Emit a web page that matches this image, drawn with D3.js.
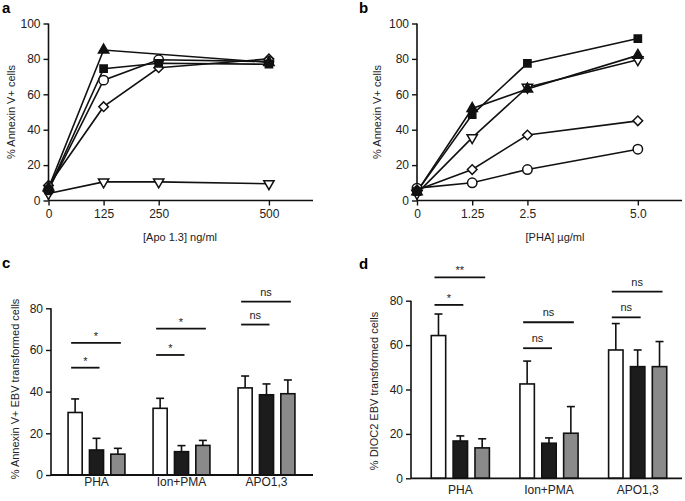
<!DOCTYPE html>
<html><head><meta charset="utf-8">
<script src="https://cdn.jsdelivr.net/npm/d3@7"></script>
<style>body{margin:0;background:#fff}svg{display:block}text{font-family:"Liberation Sans",Arial,Helvetica,sans-serif;fill:#222}</style>
</head><body><svg id="c" width="685" height="501"></svg>
<script>
// ---- Panel a data ----
const doseA = [0, 125, 250, 500];
const doseATicks = ["0", "125", "250", "500"];
const aTriUp = [7, 85, null, 78];
const aSquare = [6, 74.5, 77.5, 77];
const aCircle = [6, 68, 79.5, 78.5];
const aDiamond = [8.5, 53, 75, 80];
const aTriDown = [4, 10.5, 10.5, 9.5];
// ---- Panel b data ----
const doseB = [0, 1.25, 2.5, 5.0];
const doseBTicks = ["0", "1.25", "2.5", "5.0"];
const bSquare = [5, 48.5, 77.5, 91.5];
const bTriUp = [5, 52, 63, 82];
const bTriDown = [4, 35.5, 64, 79.5];
const bDiamond = [6, 17.5, 37, 45];
const bCircle = [7, 10, 17.5, 29];
const lineYTicks = [0, 20, 40, 60, 80, 100];
// ---- Bar panels ----
const groups = ["PHA", "Ion+PMA", "APO1,3"];
const barSeries = ["white", "black", "gray"];
const cWhite = [30, 32, 41.8], cWhiteErr = [6.5, 4.8, 5.7];
const cBlack = [12, 11.2, 38.5], cBlackErr = [5.6, 2.9, 5.2];
const cGray = [10, 14.2, 39], cGrayErr = [2.8, 2.4, 6.6];
const dWhite = [64.3, 42.5, 57.8], dWhiteErr = [9.7, 10.3, 11.9];
const dBlack = [16.8, 15.8, 50.3], dBlackErr = [2.3, 2.4, 7.5];
const dGray = [13.7, 20.3, 50.3], dGrayErr = [4.1, 12, 11.3];
const barYTicks = [0, 20, 40, 60, 80];
const sigC = [
  {g: 0, a: 0, b: 1, y: 51.5, t: "*"}, {g: 0, a: 0, b: 2, y: 63.4, t: "*"},
  {g: 1, a: 0, b: 1, y: 57.6, t: "*"}, {g: 1, a: 0, b: 2, y: 70.2, t: "*"},
  {g: 2, a: 0, b: 1, y: 72.2, t: "ns"}, {g: 2, a: 0, b: 2, y: 83.2, t: "ns"}];
const sigD = [
  {g: 0, a: 0, b: 1, y: 78.1, t: "*"}, {g: 0, a: 0, b: 2, y: 90.5, t: "**"},
  {g: 1, a: 0, b: 1, y: 58.6, t: "ns"}, {g: 1, a: 0, b: 2, y: 70.3, t: "ns"},
  {g: 2, a: 0, b: 1, y: 72.5, t: "ns"}, {g: 2, a: 0, b: 2, y: 84.1, t: "ns"}];

const svg = d3.select("#c");
const INK = "#111";

function panelLetter(t, x, y) {
  svg.append("text").attr("x", x).attr("y", y).attr("font-size", 15).attr("font-weight", "bold").style("fill", "#000").text(t);
}
function symPath(kind) {
  const s = {circle: [d3.symbolCircle, 70], square: [d3.symbolSquare, 52], tri: [d3.symbolTriangle, 46],
    tridown: [d3.symbolTriangle, 46], diamond: [d3.symbolSquare, 46]}[kind];
  return d3.symbol().type(s[0]).size(s[1])();
}
function symRot(kind) { return kind === "tridown" ? 180 : kind === "diamond" ? 45 : 0; }

function linePanel(opt) {
  const x = d3.scaleLinear().domain(opt.xDomain).range(opt.xRange);
  const y = d3.scaleLinear().domain([0, 100]).range(opt.yRange);
  const g = svg.append("g");
  const ya = g.append("g").attr("transform", `translate(${opt.xRange[0]},0)`)
    .call(d3.axisLeft(y).tickValues(lineYTicks).tickSize(5).tickPadding(3));
  const xa = g.append("g").attr("transform", `translate(0,${opt.yRange[0]})`)
    .call(d3.axisBottom(x).tickValues(opt.xVals).tickFormat((d, i) => opt.xTicks[i]).tickSize(5).tickPadding(4));
  [ya, xa].forEach(a => {
    a.select(".domain").attr("stroke", INK).attr("stroke-width", 1.6);
    a.selectAll(".tick line").attr("stroke", INK).attr("stroke-width", 1.4);
    a.selectAll("text").attr("font-size", 12).style("font-family", "Liberation Sans, Arial, sans-serif").attr("fill", "#222");
  });
  ya.select(".domain").attr("d", `M0,${opt.yRange[1]}V${opt.yRange[0]}`);
  xa.select(".domain").attr("d", `M${opt.xRange[0]},0H${opt.xRange[1]}`);
  const line = d3.line().x(d => x(d[0])).y(d => y(d[1]));
  opt.series.forEach(s => {
    const pts = opt.xVals.map((v, i) => [v, s.v[i]]).filter(p => p[1] != null);
    g.append("path").attr("d", line(pts)).attr("fill", "none").attr("stroke", INK).attr("stroke-width", 1.6);
  });
  opt.series.forEach(s => {
    const pts = opt.xVals.map((v, i) => [v, s.v[i]]).filter(p => p[1] != null);
    g.selectAll(null).data(pts).enter().append("path")
      .attr("d", symPath(s.k))
      .attr("transform", d => `translate(${x(d[0])},${y(d[1])}) rotate(${symRot(s.k)})`)
      .attr("fill", s.f ? INK : "#fff").attr("stroke", INK).attr("stroke-width", 1.5);
  });
  g.append("text").attr("x", (opt.titleX)).attr("y", opt.yRange[0] + 40).attr("text-anchor", "middle")
    .attr("font-size", 11).text(opt.xTitle);
  g.append("text").attr("transform", `translate(${opt.yTitleX},${(opt.yRange[0] + opt.yRange[1]) / 2}) rotate(-90)`)
    .attr("text-anchor", "middle").attr("font-size", 11).text("% Annexin V+ cells");
}

linePanel({xDomain: [0, 600], xRange: [48.5, 313], yRange: [200.5, 23.5], xVals: doseA, xTicks: doseATicks,
  series: [{k: "tridown", f: false, v: aTriDown}, {k: "diamond", f: false, v: aDiamond}, {k: "circle", f: false, v: aCircle},
    {k: "square", f: true, v: aSquare}, {k: "tri", f: true, v: aTriUp}],
  xTitle: "[Apo 1.3] ng/ml", titleX: 180, yTitleX: 15});
linePanel({xDomain: [0, 6], xRange: [417, 682], yRange: [200.5, 23.5], xVals: doseB, xTicks: doseBTicks,
  series: [{k: "circle", f: false, v: bCircle}, {k: "diamond", f: false, v: bDiamond}, {k: "tridown", f: false, v: bTriDown},
    {k: "tri", f: true, v: bTriUp}, {k: "square", f: true, v: bSquare}],
  xTitle: "[PHA] \u00b5g/ml", titleX: 555, yTitleX: 381});

function barPanel(opt) {
  const y = d3.scaleLinear().domain([0, 80]).range(opt.yRange);
  const x0 = d3.scaleBand().domain(groups).range(opt.bandRange);
  const x1 = d3.scaleBand().domain(barSeries).range([-opt.half, opt.half]).padding(0.34);
  const ctr = (gi, si) => x0(groups[gi]) + x0.bandwidth() / 2 + x1(barSeries[si]) + x1.bandwidth() / 2;
  const g = svg.append("g");
  const fills = {white: "#fff", black: "#1c1c1c", gray: "#8a8a8a"};
  opt.data.forEach((s, si) => {
    groups.forEach((grp, gi) => {
      const cx = ctr(gi, si), top = y(s.m[gi]), et = y(s.m[gi] + s.e[gi]);
      g.append("line").attr("x1", cx).attr("x2", cx).attr("y1", top).attr("y2", et).attr("stroke", INK).attr("stroke-width", 1.6);
      g.append("line").attr("x1", cx - 4).attr("x2", cx + 4).attr("y1", et).attr("y2", et).attr("stroke", INK).attr("stroke-width", 1.6);
      g.append("rect").attr("x", cx - x1.bandwidth() / 2).attr("width", x1.bandwidth())
        .attr("y", top).attr("height", y(0) - top).attr("fill", fills[barSeries[si]]).attr("stroke", INK).attr("stroke-width", 1.6);
    });
  });
  const ya = g.append("g").attr("transform", `translate(${opt.axisX},0)`)
    .call(d3.axisLeft(y).tickValues(barYTicks).tickSize(5).tickPadding(3));
  ya.select(".domain").attr("stroke", INK).attr("stroke-width", 1.6).attr("d", `M0,${opt.yRange[1]}V${opt.yRange[0]}`);
  ya.selectAll(".tick line").attr("stroke", INK).attr("stroke-width", 1.4);
  ya.selectAll("text").attr("font-size", 12).style("font-family", "Liberation Sans, Arial, sans-serif").attr("fill", "#222");
  g.append("line").attr("x1", opt.axisX).attr("x2", opt.axisEnd).attr("y1", y(0)).attr("y2", y(0)).attr("stroke", INK).attr("stroke-width", 1.8);
  groups.forEach((grp, gi) => {
    g.append("text").attr("x", x0(grp) + x0.bandwidth() / 2).attr("y", opt.catY).attr("text-anchor", "middle").attr("font-size", 12).text(grp);
  });
  opt.sig.forEach(s => {
    const xa = ctr(s.g, s.a) - 4, xb = ctr(s.g, s.b) + 3, yy = y(s.y);
    g.append("line").attr("x1", xa).attr("x2", xb).attr("y1", yy).attr("y2", yy).attr("stroke", INK).attr("stroke-width", 1.8);
    g.append("text").attr("x", (xa + xb) / 2).attr("y", s.t === "ns" ? yy - 6 : yy - 3).attr("text-anchor", "middle")
      .attr("font-size", s.t === "ns" ? 11 : 11).style("fill", "#222").text(s.t);
  });
  g.append("text").attr("transform", `translate(${opt.yTitleX},${opt.yTitleY}) rotate(-90)`)
    .attr("text-anchor", "middle").attr("font-size", 11).text(opt.yTitle);
}

barPanel({yRange: [475, 308.3], bandRange: [54, 309], half: 35.7, axisX: 51, axisEnd: 313, catY: 486,
  data: [{m: cWhite, e: cWhiteErr}, {m: cBlack, e: cBlackErr}, {m: cGray, e: cGrayErr}], sig: sigC,
  yTitle: "% Annexin V+ EBV transformed cells", yTitleX: 19, yTitleY: 389});
barPanel({yRange: [478.3, 300.7], bandRange: [416, 682], half: 36.5, axisX: 411, axisEnd: 682, catY: 493.5,
  data: [{m: dWhite, e: dWhiteErr}, {m: dBlack, e: dBlackErr}, {m: dGray, e: dGrayErr}], sig: sigD,
  yTitle: "% DIOC2 EBV transformed cells", yTitleX: 378, yTitleY: 391});

panelLetter("a", 2, 13);
panelLetter("b", 359, 13);
panelLetter("c", 2, 268);
panelLetter("d", 359, 269);
</script></body></html>
